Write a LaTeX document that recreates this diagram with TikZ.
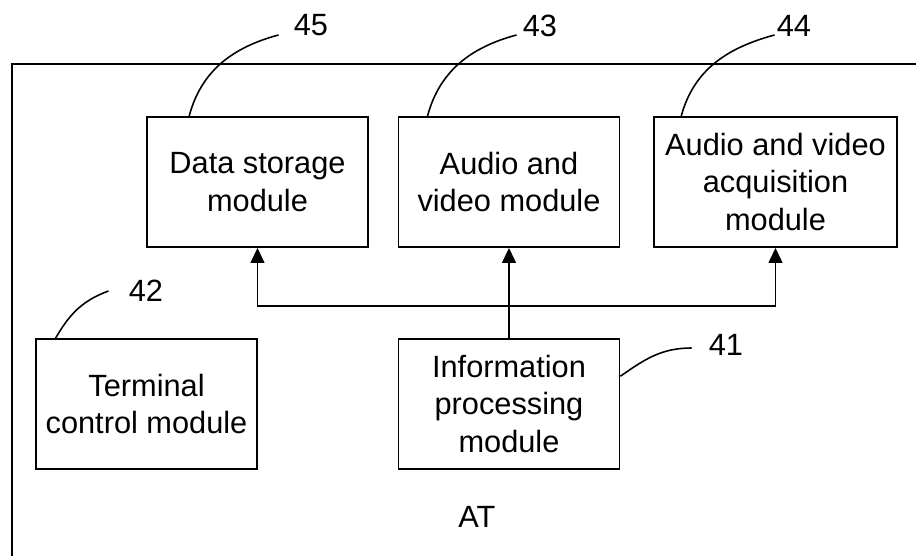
\documentclass[tikz,border=0pt]{standalone}
\usepackage{fontspec}
\setmainfont{Liberation Sans}
\usetikzlibrary{arrows.meta,positioning}
\begin{document}
\begin{tikzpicture}[on grid,
		module/.style={draw,line width=1.1pt,minimum width=44.2mm,minimum height=26mm,inner sep=0pt,align=center,font=\fontsize{17.5}{21.6}\selectfont},
		tag/.style={inner sep=0pt,font=\fontsize{17.5}{21.6}\selectfont},
		flow/.style={line width=0.8pt,-{Triangle[length=3mm,width=2.8mm]}},
		leader/.style={line width=0.9pt}]
		\useasboundingbox (-101.8mm,-74.8mm) rectangle (81.4mm,36.4mm);
		\draw[line width=0.8pt] (-99.4mm,-74.8mm) |- (81.4mm,23.6mm);
		\node[module](av) at (0,0) {Audio and\\video module};
		\node[module](store)[left=50.3mm of av] {Data storage\\module};
		\node[module,minimum width=48.6mm](acq)[right=53.3mm of av] {Audio and video\\acquisition\\module};
		\node[module](info)[below=44.4mm of av] {Information\\processing\\module};
		\node[module](term)[left=72.5mm of info] {Terminal\\control module};
		\node[tag](n45) at (-39.6mm,31.3mm) {45};
		\node[tag](n43) at (6.2mm,31.3mm) {43};
		\node[tag](n44) at (57mm,31.3mm) {44};
		\node[tag](n42) at (-72.6mm,-21.8mm) {42};
		\node[tag](n41) at (43.4mm,-32.6mm) {41};
		\node[tag](at) at (-6.4mm,-67mm) {AT};
		\coordinate (hub) at ([yshift=6.4mm]info.north);
		\draw[flow] (info.north) -- (av.south);
		\draw[flow] (hub) -| (store.south);
		\draw[flow] (hub) -| (acq.south);
		\draw[leader] (store.136) to[out=75,in=195] ([xshift=-3mm,yshift=-1.9mm]n45.west);
		\draw[leader] (av.141) to[out=75,in=195] ([xshift=-1.2mm,yshift=-1.9mm]n43.west);
		\draw[leader] (acq.145) to[out=75,in=195] ([xshift=-0.4mm,yshift=-1.9mm]n44.west);
		\draw[leader] (term.144) to[out=60,in=200] ([xshift=-4mm]n42.west);
		\draw[leader] (info.14) to[out=35,in=180] ([xshift=-3.4mm,yshift=-0.6mm]n41.west);
\end{tikzpicture}
\end{document}
